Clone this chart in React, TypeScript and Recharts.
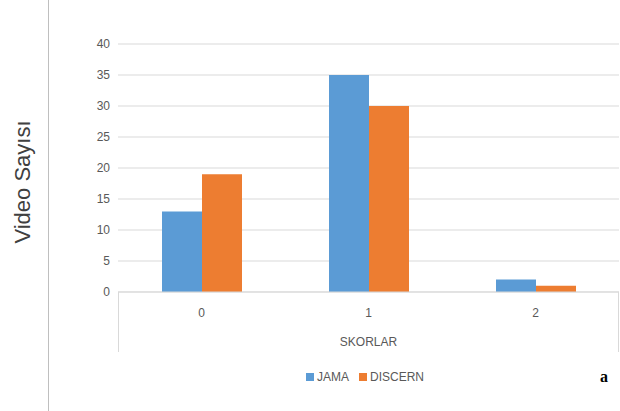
import { BarChart, Bar, XAxis, YAxis, CartesianGrid } from "recharts";

const categories = ["0", "1", "2"];
const jama = [13, 35, 2];
const discern = [19, 30, 1];
const yTicks = [0, 5, 10, 15, 20, 25, 30, 35, 40];

const series = [
  { key: "JAMA", color: "#5B9BD5", values: jama },
  { key: "DISCERN", color: "#ED7D31", values: discern },
];

const data = categories.map((name, i) => {
  const row: Record<string, string | number> = { name };
  series.forEach((s) => (row[s.key] = s.values[i]));
  return row;
});

const W = 620;
const H = 411;
const margin = { top: 44, right: 1, left: 88, bottom: 59 };
const Y_AXIS_W = 30;
const X_AXIS_H = 60;
const plotLeft = margin.left + Y_AXIS_W;
const plotRight = W - margin.right;
const plotBottom = H - margin.bottom - X_AXIS_H;
const FONT = "'Liberation Sans', Arial, sans-serif";
const TEXT = "#595959";

export default function App() {
  return (
    <div style={{ position: "absolute", left: 0, top: 0, width: W, height: H, background: "#fff" }}>
      <BarChart width={W} height={H} data={data} margin={margin} barGap={0} barSize={40}>
        <CartesianGrid vertical={false} stroke="#d9d9d9" />
        <XAxis
          dataKey="name"
          height={X_AXIS_H}
          tickLine={false}
          axisLine={{ stroke: "#d9d9d9" }}
          tickMargin={10}
          tick={{ fill: TEXT, fontSize: 12, fontFamily: FONT }}
          label={{
            value: "SKORLAR",
            position: "insideBottom",
            offset: 6,
            fill: TEXT,
            fontSize: 12,
            fontFamily: FONT,
          }}
        />
        <YAxis
          width={Y_AXIS_W}
          domain={[0, 40]}
          ticks={yTicks}
          axisLine={false}
          tickLine={false}
          tick={{ fill: TEXT, fontSize: 12, fontFamily: FONT }}
        />
        {series.map((s) => (
          <Bar key={s.key} dataKey={s.key} fill={s.color} isAnimationActive={false} />
        ))}
      </BarChart>
      <svg
        width={W}
        height={H}
        style={{ position: "absolute", left: 0, top: 0, pointerEvents: "none" }}
      >
        <line x1={48.5} y1={0} x2={48.5} y2={H} stroke="#bfbfbf" />
        <line x1={plotLeft + 0.5} y1={plotBottom} x2={plotLeft + 0.5} y2={plotBottom + X_AXIS_H} stroke="#d9d9d9" />
        <line x1={plotRight - 0.5} y1={plotBottom} x2={plotRight - 0.5} y2={plotBottom + X_AXIS_H} stroke="#d9d9d9" />
        <text
          x={22}
          y={182}
          transform="rotate(-90 22 182)"
          textAnchor="middle"
          dominantBaseline="central"
          fontSize={22}
          fontFamily={FONT}
          fill="#404040"
        >
          Video Sayısı
        </text>
        <text x={600} y={382} fontSize={16} fontWeight="bold" fontFamily="'Liberation Serif', 'Times New Roman', serif" fill="#000">
          a
        </text>
      </svg>
      <div
        style={{
          position: "absolute",
          left: 0,
          width: 730,
          top: 369,
          display: "flex",
          justifyContent: "center",
          gap: 10,
          fontSize: 12,
          fontFamily: FONT,
          color: TEXT,
          lineHeight: "16px",
        }}
      >
        {series.map((s) => (
          <span key={s.key} style={{ display: "flex", alignItems: "center", gap: 3 }}>
            <span style={{ width: 8, height: 8, background: s.color, display: "inline-block" }} />
            {s.key}
          </span>
        ))}
      </div>
    </div>
  );
}
